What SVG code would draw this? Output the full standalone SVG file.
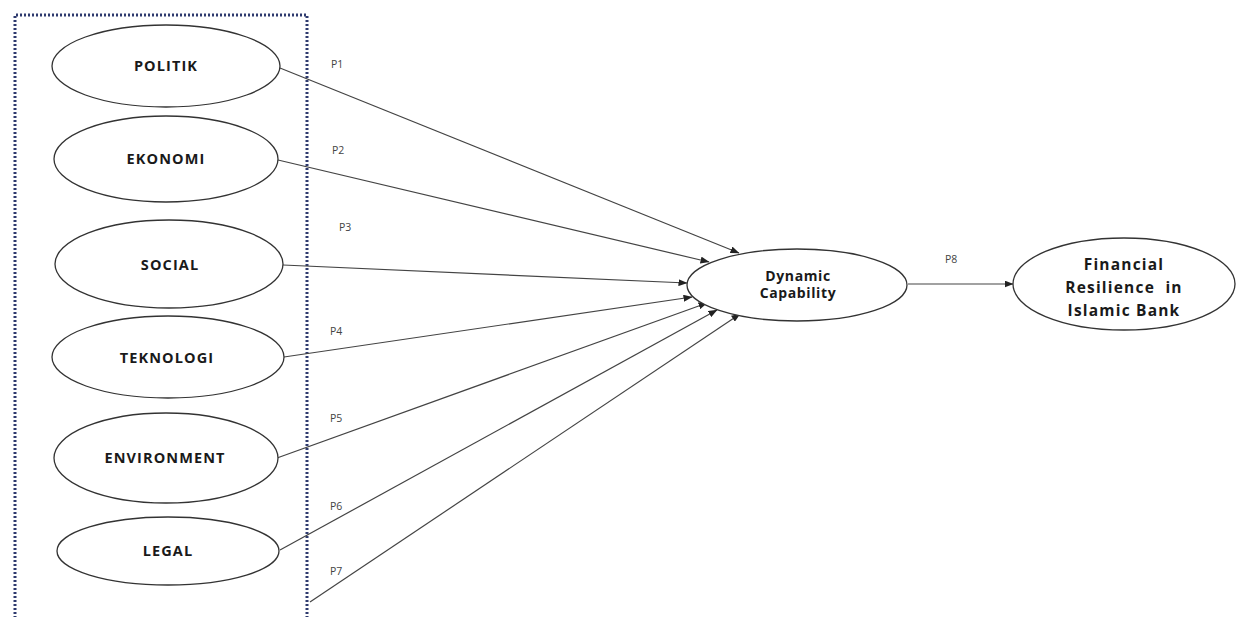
<svg xmlns="http://www.w3.org/2000/svg" width="1236" height="617" viewBox="0 0 1236 617">
<style>
.node ellipse{fill:#fff;stroke:#333;stroke-width:1.3}
.lbl{font-family:"Open Sans","Liberation Sans",sans-serif;font-weight:700;font-size:14.5px;letter-spacing:1.1px;fill:#1a1a1a;text-anchor:middle}
.mid{font-size:14px;letter-spacing:0.6px}
.big{font-size:15.5px;letter-spacing:1.2px;white-space:pre}
.p{font-family:"Open Sans","Liberation Sans",sans-serif;font-size:10.5px;fill:#444}
.conn line{stroke:#444;stroke-width:1.2;marker-end:url(#ah)}
</style>
<defs>
<marker id="ah" markerWidth="9" markerHeight="7" refX="8.5" refY="3.5" orient="auto" markerUnits="userSpaceOnUse">
<path d="M0,0 L9,3.5 L0,7 Z" fill="#222"/>
</marker>
</defs>
<rect width="1236" height="617" fill="#fff"/>
<g id="boundary">
<path d="M15,630 L15,15 L307,15 L307,630" fill="none" stroke="#2e3a6e" stroke-width="3" stroke-dasharray="2 2"/>
</g>
<g id="connectors" class="conn">
<line x1="280" y1="68" x2="739" y2="253"/>
<line x1="278" y1="160" x2="709" y2="262"/>
<line x1="283" y1="265" x2="687" y2="283"/>
<line x1="284" y1="357" x2="692" y2="297"/>
<line x1="277" y1="458" x2="707" y2="303"/>
<line x1="280" y1="550" x2="717" y2="310"/>
<line x1="310" y1="602" x2="740" y2="314"/>
<line x1="908" y1="284" x2="1013" y2="284"/>
</g>
<g id="edge-labels">
<text class="p" x="331" y="68">P1</text>
<text class="p" x="332" y="154">P2</text>
<text class="p" x="339" y="231">P3</text>
<text class="p" x="330" y="335">P4</text>
<text class="p" x="330" y="422">P5</text>
<text class="p" x="330" y="510">P6</text>
<text class="p" x="330" y="575">P7</text>
<text class="p" x="945" y="263">P8</text>
</g>
<g id="politik" class="node"><ellipse cx="166" cy="66" rx="114" ry="41"/><text class="lbl" x="166" y="71">POLITIK</text></g>
<g id="ekonomi" class="node"><ellipse cx="166" cy="159" rx="112" ry="43"/><text class="lbl" x="166" y="164">EKONOMI</text></g>
<g id="social" class="node"><ellipse cx="169" cy="264" rx="114" ry="44"/><text class="lbl" x="170" y="270">SOCIAL</text></g>
<g id="teknologi" class="node"><ellipse cx="168" cy="357" rx="116" ry="41"/><text class="lbl" x="167" y="363">TEKNOLOGI</text></g>
<g id="environment" class="node"><ellipse cx="166" cy="458" rx="112" ry="45"/><text class="lbl" x="165" y="463">ENVIRONMENT</text></g>
<g id="legal" class="node"><ellipse cx="168" cy="551" rx="111" ry="34"/><text class="lbl" x="168" y="556">LEGAL</text></g>
<g id="dynamic" class="node"><ellipse cx="797" cy="285" rx="110" ry="36"/><text class="lbl mid" x="798" y="281">Dynamic</text><text class="lbl mid" x="798" y="298">Capability</text></g>
<g id="financial" class="node"><ellipse cx="1124" cy="284" rx="111" ry="46"/><text class="lbl big" x="1124" y="270">Financial</text><text class="lbl big" x="1124" y="293">Resilience  in</text><text class="lbl big" x="1124" y="316">Islamic Bank</text></g>
</svg>
